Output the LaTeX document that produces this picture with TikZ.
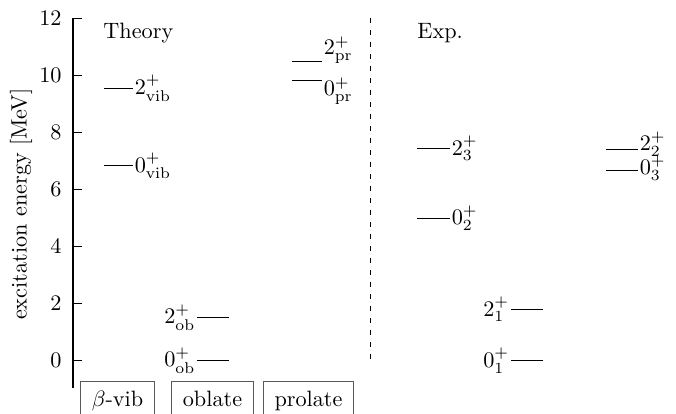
\documentclass[tikz,border=0pt]{standalone}
\usepackage{amsmath}
\usetikzlibrary{positioning}

\begin{document}
\begin{tikzpicture}[x=0.45pt, y=12.84pt,
    lvl/.style={line width=0.4pt},
    lbl/.style={inner sep=0.6pt},
    shapebox/.style={draw=black!65, anchor=north, inner xsep=5pt, inner ysep=4.5pt, text depth=2pt}]
    \useasboundingbox (0,-1.833) rectangle (676,12.643);
    % energy axis
    \draw[thick] (72.7,12) -- (72.7,-0.96);
    \foreach \e in {0,2,...,12}
        \draw (72.7,\e) -- (81.7,\e) node[pos=0, left=4.8pt, inner sep=0pt] (tick\e) {$\e$};
    \node[rotate=90] (ylabel) at (21,5.49) {excitation energy [MeV]};
    \node[anchor=base west, inner sep=0pt] (theory) at (103,11.28) {Theory};
    \node[anchor=base west, inner sep=0pt] (exp) at (417,11.28) {Exp.};
    % separator
    \draw[dash pattern=on 2pt off 3.4pt] (370,12) -- (370,0);
    % theory levels
    \draw[lvl] (104,9.55) -- (133,9.55) node[right, lbl] (vib2) {$2^+_{\mathrm{vib}}$};
    \draw[lvl] (104,6.83) -- (133,6.83) node[right, lbl] (vib0) {$0^+_{\mathrm{vib}}$};
    \draw[lvl] (292,10.5) -- (322,10.5) node[right, lbl, yshift=5pt] (pr2) {$2^+_{\mathrm{pr}}$};
    \draw[lvl] (292,9.83) -- (322,9.83) node[right, lbl, yshift=-5pt] (pr0) {$0^+_{\mathrm{pr}}$};
    \draw[lvl] (229,1.52) -- (197,1.52) node[left, lbl] (ob2) {$2^+_{\mathrm{ob}}$};
    \draw[lvl] (229,0) -- (197,0) node[left, lbl] (ob0) {$0^+_{\mathrm{ob}}$};
    % experimental levels
    \draw[lvl] (417,7.44) -- (450,7.44) node[right, lbl] (ex23) {$2^+_3$};
    \draw[lvl] (417,4.99) -- (450,4.99) node[right, lbl] (ex02) {$0^+_2$};
    \draw[lvl] (606,7.39) -- (638,7.39) node[right, lbl, yshift=2.5pt] (ex22) {$2^+_2$};
    \draw[lvl] (606,6.68) -- (638,6.68) node[right, lbl, yshift=1pt] (ex03) {$0^+_3$};
    \draw[lvl] (543,1.80) -- (511,1.80) node[left, lbl] (ex21) {$2^+_1$};
    \draw[lvl] (543,0) -- (511,0) node[left, lbl] (ex01) {$0^+_1$};
    % model boxes
    \node[shapebox] (bvib) at (117.5,-0.71) {$\beta$-vib};
    \node[shapebox] (obl) at (212.5,-0.71) {oblate};
    \node[shapebox] (prol) at (308.5,-0.71) {prolate};
\end{tikzpicture}
\end{document}
